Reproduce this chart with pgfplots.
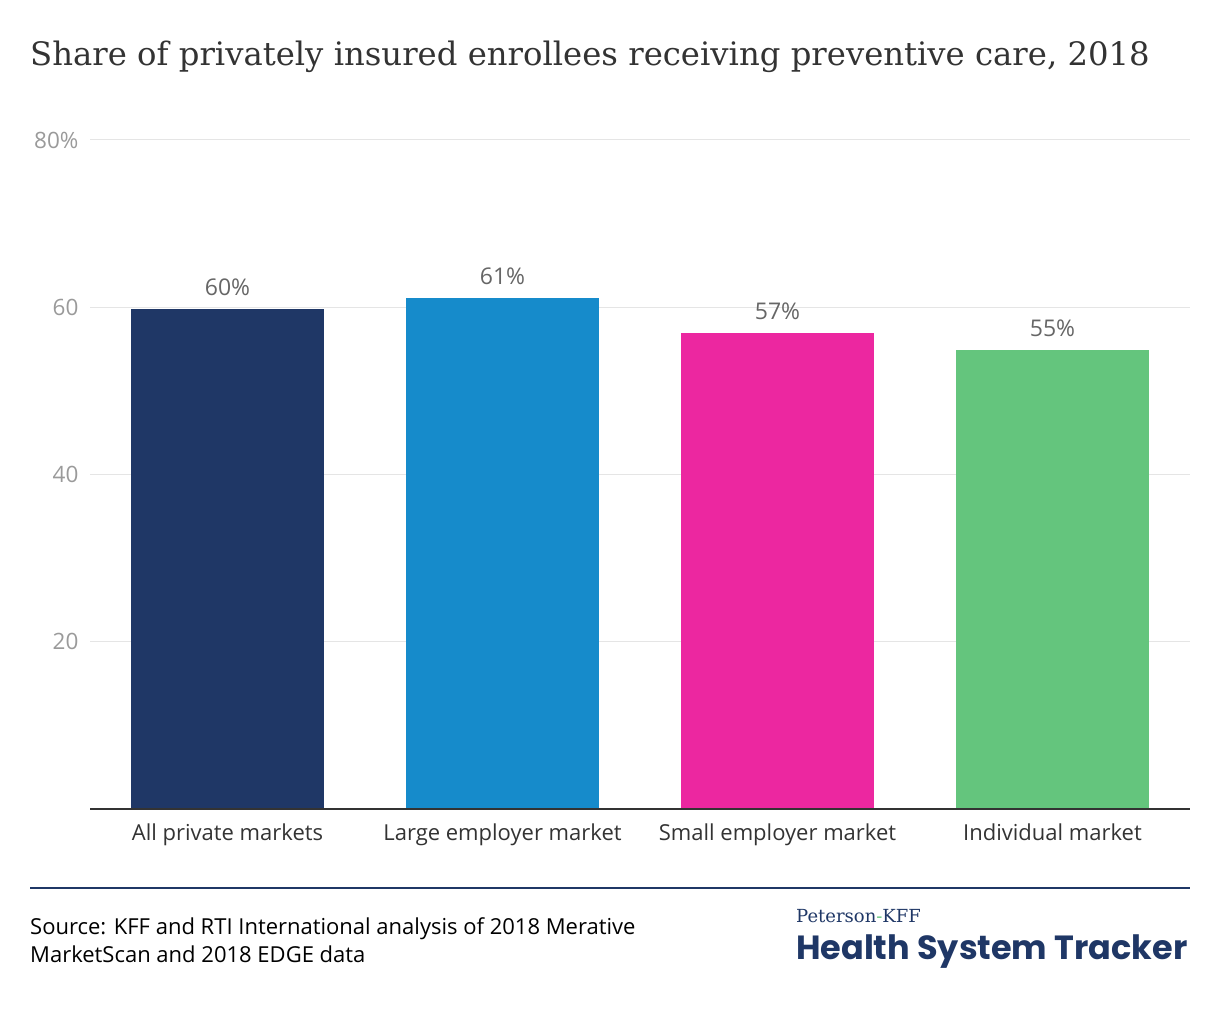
\documentclass[border=0pt]{standalone}
\usepackage{pgfplots}
\pgfplotsset{compat=1.18}
\usepackage{fontspec}
\setmainfont{Open Sans}
\newfontfamily\titlefont{DejaVu Serif}
\newfontfamily\srcfont{Open Sans}
\newfontfamily\logoserif{DejaVu Serif}
\newfontfamily\logofont{Poppins}
\definecolor{navy}{HTML}{1F3766}
\definecolor{cblue}{HTML}{168BCB}
\definecolor{cpink}{HTML}{EC27A0}
\definecolor{cgreen}{HTML}{64C57D}
\definecolor{tickgray}{HTML}{9A9A9A}
\definecolor{labgray}{HTML}{666666}
\definecolor{txt}{HTML}{333333}
\begin{document}
\begin{tikzpicture}
\path[use as bounding box] (0,0) rectangle (1220pt,1020pt);
\node[anchor=west, inner sep=0pt, text=txt, font=\titlefont\fontsize{32.3}{32.3}\selectfont] at (30pt,963pt) {Share of privately insured enrollees receiving preventive care, 2018};
\begin{axis}[
  at={(90pt,211pt)}, anchor=south west,
  scale only axis, width=1100pt, height=669pt,
  xmin=-0.5, xmax=3.5, ymin=0, ymax=80,
  axis line style={draw=none},
  ymajorgrids, grid style={color=black!10, line width=1pt},
  major tick length=0pt,
  ytick={20,40,60,80}, yticklabels={20,40,60,80\%},
  xtick={0,1,2,3},
  xticklabels={All private markets, Large employer market, Small employer market, Individual market},
  /pgf/number format/assume math mode=true,
  yticklabel style={font=\fontsize{22.5}{22.5}\selectfont, text=tickgray, xshift=-8pt},
  xticklabel style={font=\fontsize{22}{22}\selectfont, text=txt, yshift=-11pt},
  ybar, bar width=0.7, bar shift=0pt,
  nodes near coords={\pgfmathprintnumber[fixed,precision=0]{\pgfplotspointmeta}\%},
  every node near coord/.append style={font=\fontsize{23}{23}\selectfont, text=labgray, yshift=10pt},
  clip=false,
]
\addplot[draw=none, fill=navy] coordinates {(0,59.8)};
\addplot[draw=none, fill=cblue] coordinates {(1,61.1)};
\addplot[draw=none, fill=cpink] coordinates {(2,56.9)};
\addplot[draw=none, fill=cgreen] coordinates {(3,54.9)};
\draw[color=txt, line width=1.5pt] (axis cs:-0.5,0) -- (axis cs:3.5,0);
\end{axis}
\draw[navy, line width=1.5pt] (30pt,132pt) -- (1190pt,132pt);
\node[anchor=west, inner sep=0pt, text=black, align=left, font=\srcfont\fontsize{22}{28}\selectfont] at (30pt,80pt) {Source: KFF and RTI International analysis of 2018 Merative\\MarketScan and 2018 EDGE data};
\node[anchor=west, inner sep=0pt, text=navy, font=\logoserif\fontsize{18}{18}\selectfont] at (796pt,104pt) {Peterson{\color{cgreen}-}KFF};
\node[anchor=west, inner sep=0pt, text=navy, font=\logofont\bfseries\fontsize{33.5}{33.5}\selectfont] at (796pt,68pt) {Health System Tracker};
\end{tikzpicture}
\end{document}
